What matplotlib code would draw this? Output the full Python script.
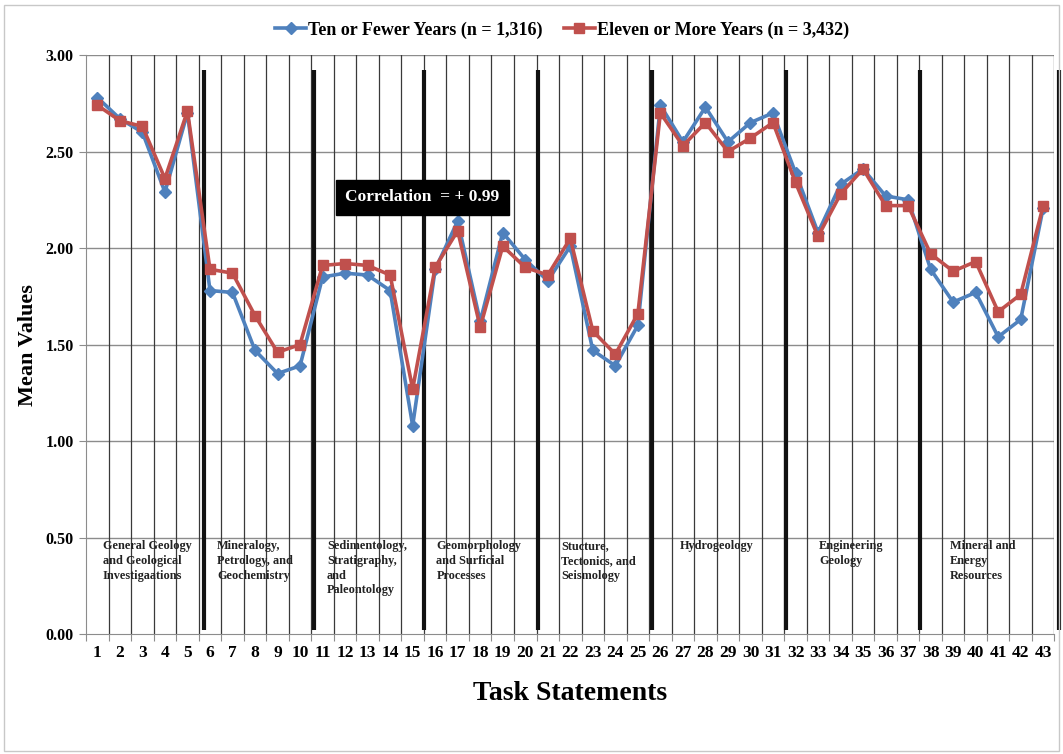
import numpy as np
import matplotlib
matplotlib.use("Agg")
import matplotlib.pyplot as plt
from matplotlib.patches import Rectangle

plt.rcParams['font.family'] = ['Liberation Serif', 'DejaVu Serif']

tasks = list(range(1, 44))
ten_or_fewer = [2.78, 2.67, 2.60, 2.29, 2.70, 1.78, 1.77, 1.47, 1.35, 1.39,
                1.85, 1.87, 1.86, 1.78, 1.08, 1.89, 2.14, 1.62, 2.08, 1.94,
                1.83, 2.01, 1.47, 1.39, 1.60, 2.74, 2.55, 2.73, 2.55, 2.65,
                2.70, 2.39, 2.08, 2.33, 2.41, 2.27, 2.25, 1.89, 1.72, 1.77,
                1.54, 1.63, 2.21]
eleven_or_more = [2.74, 2.66, 2.63, 2.36, 2.71, 1.89, 1.87, 1.65, 1.46, 1.50,
                  1.91, 1.92, 1.91, 1.86, 1.27, 1.90, 2.09, 1.59, 2.01, 1.90,
                  1.86, 2.05, 1.57, 1.45, 1.66, 2.70, 2.53, 2.65, 2.50, 2.57,
                  2.65, 2.34, 2.06, 2.28, 2.41, 2.22, 2.22, 1.97, 1.88, 1.93,
                  1.67, 1.76, 2.22]

# domain groups shown as text blocks inside the plot
domains = ["General Geology\nand Geological\nInvestigaations",
           "Mineralogy,\nPetrology, and\nGeochemistry",
           "Sedimentology,\nStratigraphy,\nand\nPaleontology",
           "Geomorphology\nand Surficial\nProcesses",
           "Stucture,\nTectonics, and\nSeismology",
           "Hydrogeology",
           "Engineering\nGeology",
           "Mineral and\nEnergy\nResources"]
domain_label_x = [1.25, 6.32, 11.2, 16.05, 21.6, 26.85, 33.05, 38.87]
dividers = [5.72, 10.6, 15.52, 20.55, 25.62, 31.58, 37.55, 43.72]

blue = "#4F81BD"
red = "#C0504D"

fig = plt.figure(figsize=(10.63, 7.54), dpi=100)
fig.patches.append(Rectangle((0.004, 0.004), 0.992, 0.99, transform=fig.transFigure,
                             fill=False, edgecolor="#c8c8c8", linewidth=1))
ax = fig.add_axes([0.081, 0.159, 0.911, 0.768])

ax.set_xlim(0.5, 43.5)
ax.set_ylim(0, 3.0)

# gridlines
for yv in np.arange(0.5, 3.01, 0.5):
    ax.axhline(yv, color="#8c8c8c", linewidth=1.0, zorder=1)
for xv in np.arange(1.5, 43.6, 1.0):
    ax.axvline(xv, color="#3a3a3a", linewidth=0.9, zorder=1)

for xv in dividers:
    ax.plot([xv, xv], [0.02, 2.92], color="#111111", linewidth=3.0,
            zorder=2, clip_on=False, solid_capstyle="butt")

ax.plot(tasks, ten_or_fewer, color=blue, linewidth=2.6, marker="D",
        markersize=6.5, label="Ten or Fewer Years (n = 1,316)", zorder=4)
ax.plot(tasks, eleven_or_more, color=red, linewidth=2.6, marker="s",
        markersize=7.5, label="Eleven or More Years (n = 3,432)", zorder=5)

for lab, xl in zip(domains, domain_label_x):
    ax.text(xl, 0.485, lab, fontsize=8.8, fontweight="bold", color="#222222",
            ha="left", va="top", linespacing=1.28, zorder=3)

ax.text(15.43, 2.264, "Correlation  = + 0.99", fontsize=12.5, fontweight="bold",
        color="white", ha="center", va="center", zorder=6,
        bbox=dict(boxstyle="square,pad=0.55", facecolor="black", edgecolor="black"))

# axes styling
for s in ["top", "right"]:
    ax.spines[s].set_visible(False)
ax.spines["left"].set_color("#8c8c8c")
ax.spines["bottom"].set_color("#8c8c8c")
ax.set_xticks(np.arange(0.5, 43.6, 1.0))
ax.set_xticklabels([])
ax.tick_params(axis="x", which="major", length=5, color="#8c8c8c")
ax.set_xticks(tasks, minor=True)
ax.set_xticklabels([str(t) for t in tasks], minor=True, fontsize=12.5,
                   fontweight="bold")
ax.tick_params(axis="x", which="minor", length=0, pad=8)
ax.set_yticks(np.arange(0, 3.01, 0.5))
ax.set_yticklabels(["%.2f" % v for v in np.arange(0, 3.01, 0.5)],
                   fontsize=11.5, fontweight="bold")
ax.tick_params(axis="y", length=5, color="#8c8c8c", pad=4)

ax.set_ylabel("Mean Values", fontsize=16, fontweight="bold", labelpad=5)
ax.set_xlabel("Task Statements", fontsize=20, fontweight="bold", labelpad=14)

fig.legend(*ax.get_legend_handles_labels(), loc="center",
           bbox_to_anchor=(562 / 1063, 0.96), ncol=2, frameon=False,
           handlelength=1.7, handletextpad=0.1, columnspacing=1.2,
           prop={"weight": "bold", "size": 13})

fig.savefig("out.png", dpi=100)
